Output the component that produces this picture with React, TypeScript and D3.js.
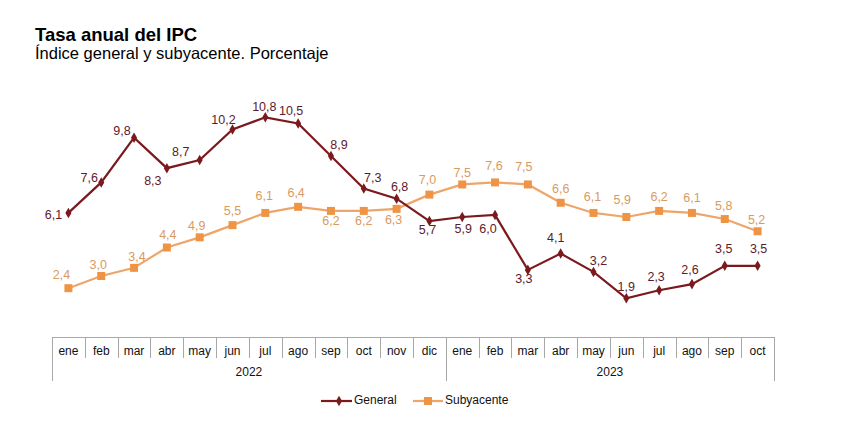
import React from "react";
import * as d3 from "d3";

const months = ["ene","feb","mar","abr","may","jun","jul","ago","sep","oct","nov","dic","ene","feb","mar","abr","may","jun","jul","ago","sep","oct"];
const years = ["2022", "2023"];
const yearCounts = [12, 10];
const generalValues = [6.1,7.6,9.8,8.3,8.7,10.2,10.8,10.5,8.9,7.3,6.8,5.7,5.9,6.0,3.3,4.1,3.2,1.9,2.3,2.6,3.5,3.5];
const subyacenteValues = [2.4,3.0,3.4,4.4,4.9,5.5,6.1,6.4,6.2,6.2,6.3,7.0,7.5,7.6,7.5,6.6,6.1,5.9,6.2,6.1,5.8,5.2];

// label placement offsets (layout only)
const genDx = [-15,-12,-12,-14,-19,-9,-1,-7,8,9,3,-2,1,-7,-4,-5,5,0,-3,-2,-1,1];
const genDy = [3,-4,-6,14,-7,-9,-10,-12,-10,-10,-11,10,13,15,10,-15,-10,-11,-13,-13,-16,-16];
const subDx = [-7,-3,3,1,-3,0,-1,-2,0,0,-3,-2,0,-1,-4,0,-1,-4,0,0,-1,-1];
const subDy = [-12,-10,-10,-12,-11,-13,-16,-13,11,11,12,-14,-11,-16,-17,-13,-15,-16,-13,-14,-12,-11];

const W = 864, H = 443;
const FONT = "'Liberation Sans', Arial, Helvetica, sans-serif";
const GEN = "#7b1a1e";
const GEN_TXT = "#5e1a2a";
const SUB = "#eda56a";
const SUB_MK = "#ef9445";
const SUB_TXT = "#d99a62";
const AXIS = "#a8a8a8";

export default function App() {
  const idx = months.map((_, i) => String(i));
  const x = d3.scaleBand<string>().domain(idx).range([52, 774]).padding(0);
  const y = d3.scaleLinear().domain([0, 12]).range([337, 337 - 12 * 20.34]);
  const cx = (i: number) => (x(String(i)) as number) + x.bandwidth() / 2;

  const line = d3.line<number>().x((_, i) => cx(i)).y((v) => y(v));
  const diamond = d3.symbol().type(d3.symbolDiamond).size(32)() as string;
  const square = d3.symbol().type(d3.symbolSquare).size(64)() as string;

  const yearBounds: { start: number; end: number; label: string }[] = [];
  let acc = 0;
  years.forEach((yr, k) => {
    const s = acc;
    acc += yearCounts[k];
    yearBounds.push({ start: s, end: acc, label: yr });
  });
  const bx = (i: number) => (i >= months.length ? 774 : (x(String(i)) as number));
  const fmt = (v: number) => d3.format(".1f")(v).replace(".", ",");

  return (
    <svg width={W} height={H} style={{ position: "absolute", left: 0, top: 0, background: "#fff" }} fontFamily={FONT}>
      <rect width={W} height={H} fill="#fff" />
      <text x={35} y={41} fontSize={18.5} fontWeight="bold" fill="#000">Tasa anual del IPC</text>
      <text x={35} y={59} fontSize={16.5} fill="#000">Índice general y subyacente. Porcentaje</text>

      {/* axis */}
      <line x1={52} x2={774} y1={337.5} y2={337.5} stroke={AXIS} strokeWidth={1} />
      {months.map((m, i) => {
        const isYearEdge = yearBounds.some((b) => b.start === i);
        return (
          <line key={"t" + i} x1={Math.round(bx(i)) + 0.5} x2={Math.round(bx(i)) + 0.5} y1={337} y2={isYearEdge ? 381 : 358} stroke={AXIS} strokeWidth={1} />
        );
      })}
      <line x1={774.5} x2={774.5} y1={337} y2={381} stroke={AXIS} strokeWidth={1} />
      {months.map((m, i) => (
        <text key={"m" + i} x={cx(i)} y={352} fontSize={12} textAnchor="middle" dominantBaseline="middle" fill="#111">{m}</text>
      ))}
      {yearBounds.map((b) => (
        <text key={b.label} x={(bx(b.start) + bx(b.end)) / 2} y={373} fontSize={12} textAnchor="middle" dominantBaseline="middle" fill="#111">{b.label}</text>
      ))}

      {/* series */}
      <path d={line(subyacenteValues) as string} fill="none" stroke={SUB} strokeWidth={2.2} />
      <path d={line(generalValues) as string} fill="none" stroke={GEN} strokeWidth={2.2} />
      {subyacenteValues.map((v, i) => (
        <path key={"s" + i} d={square} transform={`translate(${cx(i)},${y(v)})`} fill={SUB_MK} />
      ))}
      {generalValues.map((v, i) => (
        <path key={"g" + i} d={diamond} transform={`translate(${cx(i)},${y(v)})`} fill={GEN} />
      ))}
      {subyacenteValues.map((v, i) => (
        <text key={"sl" + i} x={cx(i) + subDx[i]} y={y(v) + subDy[i]} fontSize={12.5} textAnchor="middle" dominantBaseline="middle" fill={SUB_TXT}>
          {fmt(v)}
        </text>
      ))}
      {generalValues.map((v, i) => (
        <text key={"gl" + i} x={cx(i) + genDx[i]} y={y(v) + genDy[i]} fontSize={12.5} textAnchor="middle" dominantBaseline="middle" fill={GEN_TXT}>
          {fmt(v)}
        </text>
      ))}

      {/* legend */}
      <line x1={321} x2={352} y1={401} y2={401} stroke={GEN} strokeWidth={2.2} />
      <path d={diamond} transform="translate(339,401)" fill={GEN} />
      <text x={354} y={401} fontSize={12} dominantBaseline="middle" fill="#111">General</text>
      <line x1={413} x2={443} y1={401} y2={401} stroke={SUB} strokeWidth={2.2} />
      <path d={square} transform="translate(428,401)" fill={SUB_MK} />
      <text x={445} y={401} fontSize={12} dominantBaseline="middle" fill="#111">Subyacente</text>
    </svg>
  );
}
